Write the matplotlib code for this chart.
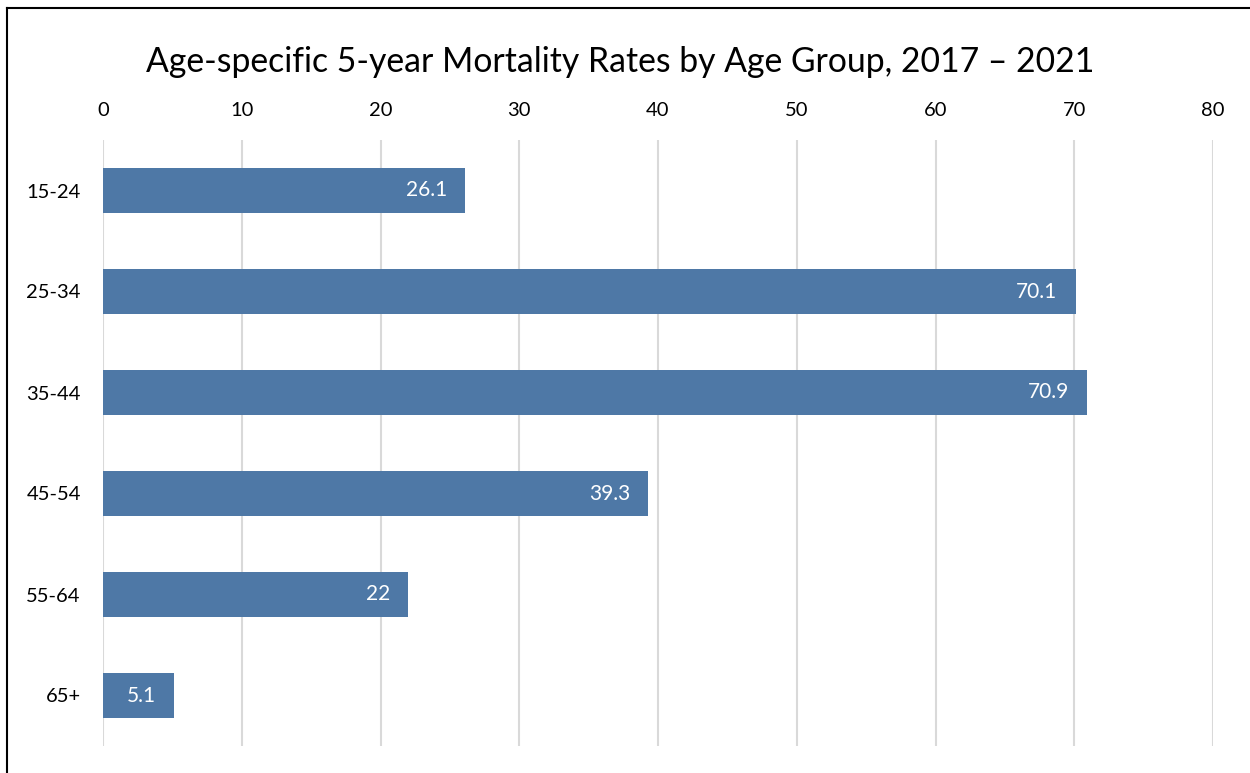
import matplotlib.pyplot as plt
from matplotlib.lines import Line2D

ages = ['15-24', '25-34', '35-44', '45-54', '55-64', '65+']
rates = [26.1, 70.1, 70.9, 39.3, 22, 5.1]
labels = ['26.1', '70.1', '70.9', '39.3', '22', '5.1']
xticks = [0, 10, 20, 30, 40, 50, 60, 70, 80]

plt.rcParams['font.family'] = ['Lato', 'DejaVu Sans']

fig = plt.figure(figsize=(12.5, 7.73), dpi=100)
ax = fig.add_axes([103/1250, 1 - 746/773, 1110/1250, 606/773])

y = list(range(len(ages)))
ax.barh(y, rates, height=0.45, color='#4E78A6', zorder=3)
for yi, r, lab in zip(y, rates, labels):
    ax.text(r - 1.3, yi, lab, color='white', ha='right', va='center',
            fontsize=15, zorder=4)

ax.set_xlim(0, 80)
ax.set_ylim(len(ages) - 0.5, -0.5)
ax.set_xticks(xticks)
ax.set_yticks(y)
ax.set_yticklabels(ages)
ax.xaxis.tick_top()
ax.tick_params(axis='both', length=0, labelsize=14.5, colors='black')
ax.tick_params(axis='x', pad=15)
ax.tick_params(axis='y', pad=16)
ax.grid(axis='x', color='#D9D9D9', linewidth=1.5, zorder=0)
for s in ax.spines.values():
    s.set_visible(False)

fig.text(0.496, 1 - 62/773, 'Age-specific 5-year Mortality Rates by Age Group, 2017 \u2013 2021',
         ha='center', va='center', fontsize=24.3)

# outer border (left and top visible)
fig.add_artist(Line2D([6.5/1250, 6.5/1250], [0, 1 - 8/773], color='black', linewidth=1.5,
                      transform=fig.transFigure))
fig.add_artist(Line2D([6.5/1250, 1], [1 - 8/773, 1 - 8/773], color='black', linewidth=1.5,
                      transform=fig.transFigure))

fig.savefig('out.png', dpi=100)
